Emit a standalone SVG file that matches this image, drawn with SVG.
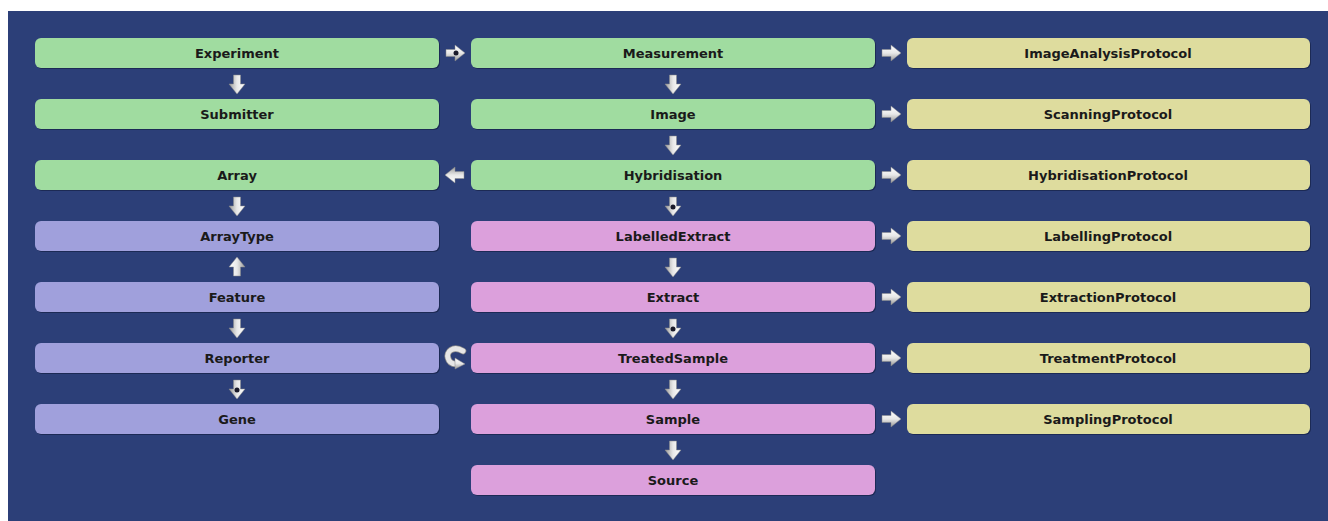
<svg xmlns="http://www.w3.org/2000/svg" width="1328" height="521" viewBox="0 0 1328 521">
<defs>
<style>
.g{fill:#a0dca0}.y{fill:#dedc9e}.p{fill:#a0a0dc}.k{fill:#dca0dc}
.sh{fill:#1c2a55}
text{font-family:"DejaVu Sans","Liberation Sans",sans-serif;font-size:13px;font-weight:bold;fill:#1a1a1a;text-anchor:middle}
.ar{fill:url(#ag);stroke:#8a8a8a;stroke-width:0.5}
.dot{fill:#1a1a2a}
</style>
<linearGradient id="ag" x1="0" y1="0" x2="0" y2="1">
<stop offset="0" stop-color="#ffffff"/>
<stop offset="0.5" stop-color="#e8e8e8"/>
<stop offset="1" stop-color="#9a9a9a"/>
</linearGradient>
<path id="arr" class="ar" d="M-9,-3.5 L0,-3.5 L0,-8 L10,0 L0,8 L0,3.5 L-9,3.5 Z"/>
</defs>
<rect x="0" y="0" width="1328" height="521" fill="#ffffff"/>
<rect x="8" y="11" width="1320" height="510" fill="#2c3f78"/>

<g id="connectors">
<use href="#arr" transform="translate(455,53)"/><circle class="dot" cx="456" cy="53" r="2.5"/>
<use href="#arr" transform="translate(891,53)"/>
<use href="#arr" transform="translate(237,84) rotate(90)"/>
<use href="#arr" transform="translate(673,84) rotate(90)"/>
<use href="#arr" transform="translate(891,114)"/>
<use href="#arr" transform="translate(673,145) rotate(90)"/>
<use href="#arr" transform="translate(455,175) rotate(180)"/>
<use href="#arr" transform="translate(891,175)"/>
<use href="#arr" transform="translate(237,206) rotate(90)"/>
<use href="#arr" transform="translate(673,206) rotate(90)"/><circle class="dot" cx="673" cy="207" r="2.5"/>
<use href="#arr" transform="translate(891,236)"/>
<use href="#arr" transform="translate(237,267) rotate(-90)"/>
<use href="#arr" transform="translate(673,267) rotate(90)"/>
<use href="#arr" transform="translate(891,297)"/>
<use href="#arr" transform="translate(237,328) rotate(90)"/>
<use href="#arr" transform="translate(673,328) rotate(90)"/><circle class="dot" cx="673" cy="329" r="2.5"/>
<g id="curved">
<path d="M463,351 C453,345 446,352 448,358 C449,362 452,364 456,364" fill="none" stroke="#8a8a8a" stroke-width="6.5" stroke-linecap="round"/>
<path d="M463,351 C453,345 446,352 448,358 C449,362 452,364 456,364" fill="none" stroke="#e6e6e6" stroke-width="5" stroke-linecap="round"/>
<path class="ar" d="M455,358 L465,364 L455,369 Z"/>
</g>
<use href="#arr" transform="translate(891,358)"/>
<use href="#arr" transform="translate(237,389) rotate(90)"/><circle class="dot" cx="237" cy="390" r="2.5"/>
<use href="#arr" transform="translate(673,389) rotate(90)"/>
<use href="#arr" transform="translate(891,419)"/>
<use href="#arr" transform="translate(673,450) rotate(90)"/>
</g>

<g id="n-experiment"><rect class="sh" x="36" y="39" width="404" height="30" rx="6"/><rect class="g" x="35" y="38" width="404" height="30" rx="6"/><text x="237" y="58">Experiment</text></g>
<g id="n-measurement"><rect class="sh" x="472" y="39" width="404" height="30" rx="6"/><rect class="g" x="471" y="38" width="404" height="30" rx="6"/><text x="673" y="58">Measurement</text></g>
<g id="n-imageanalysisprotocol"><rect class="sh" x="908" y="39" width="403" height="30" rx="6"/><rect class="y" x="907" y="38" width="403" height="30" rx="6"/><text x="1108" y="58">ImageAnalysisProtocol</text></g>

<g id="n-submitter"><rect class="sh" x="36" y="100" width="404" height="30" rx="6"/><rect class="g" x="35" y="99" width="404" height="30" rx="6"/><text x="237" y="119">Submitter</text></g>
<g id="n-image"><rect class="sh" x="472" y="100" width="404" height="30" rx="6"/><rect class="g" x="471" y="99" width="404" height="30" rx="6"/><text x="673" y="119">Image</text></g>
<g id="n-scanningprotocol"><rect class="sh" x="908" y="100" width="403" height="30" rx="6"/><rect class="y" x="907" y="99" width="403" height="30" rx="6"/><text x="1108" y="119">ScanningProtocol</text></g>

<g id="n-array"><rect class="sh" x="36" y="161" width="404" height="30" rx="6"/><rect class="g" x="35" y="160" width="404" height="30" rx="6"/><text x="237" y="180">Array</text></g>
<g id="n-hybridisation"><rect class="sh" x="472" y="161" width="404" height="30" rx="6"/><rect class="g" x="471" y="160" width="404" height="30" rx="6"/><text x="673" y="180">Hybridisation</text></g>
<g id="n-hybridisationprotocol"><rect class="sh" x="908" y="161" width="403" height="30" rx="6"/><rect class="y" x="907" y="160" width="403" height="30" rx="6"/><text x="1108" y="180">HybridisationProtocol</text></g>

<g id="n-arraytype"><rect class="sh" x="36" y="222" width="404" height="30" rx="6"/><rect class="p" x="35" y="221" width="404" height="30" rx="6"/><text x="237" y="241">ArrayType</text></g>
<g id="n-labelledextract"><rect class="sh" x="472" y="222" width="404" height="30" rx="6"/><rect class="k" x="471" y="221" width="404" height="30" rx="6"/><text x="673" y="241">LabelledExtract</text></g>
<g id="n-labellingprotocol"><rect class="sh" x="908" y="222" width="403" height="30" rx="6"/><rect class="y" x="907" y="221" width="403" height="30" rx="6"/><text x="1108" y="241">LabellingProtocol</text></g>

<g id="n-feature"><rect class="sh" x="36" y="283" width="404" height="30" rx="6"/><rect class="p" x="35" y="282" width="404" height="30" rx="6"/><text x="237" y="302">Feature</text></g>
<g id="n-extract"><rect class="sh" x="472" y="283" width="404" height="30" rx="6"/><rect class="k" x="471" y="282" width="404" height="30" rx="6"/><text x="673" y="302">Extract</text></g>
<g id="n-extractionprotocol"><rect class="sh" x="908" y="283" width="403" height="30" rx="6"/><rect class="y" x="907" y="282" width="403" height="30" rx="6"/><text x="1108" y="302">ExtractionProtocol</text></g>

<g id="n-reporter"><rect class="sh" x="36" y="344" width="404" height="30" rx="6"/><rect class="p" x="35" y="343" width="404" height="30" rx="6"/><text x="237" y="363">Reporter</text></g>
<g id="n-treatedsample"><rect class="sh" x="472" y="344" width="404" height="30" rx="6"/><rect class="k" x="471" y="343" width="404" height="30" rx="6"/><text x="673" y="363">TreatedSample</text></g>
<g id="n-treatmentprotocol"><rect class="sh" x="908" y="344" width="403" height="30" rx="6"/><rect class="y" x="907" y="343" width="403" height="30" rx="6"/><text x="1108" y="363">TreatmentProtocol</text></g>

<g id="n-gene"><rect class="sh" x="36" y="405" width="404" height="30" rx="6"/><rect class="p" x="35" y="404" width="404" height="30" rx="6"/><text x="237" y="424">Gene</text></g>
<g id="n-sample"><rect class="sh" x="472" y="405" width="404" height="30" rx="6"/><rect class="k" x="471" y="404" width="404" height="30" rx="6"/><text x="673" y="424">Sample</text></g>
<g id="n-samplingprotocol"><rect class="sh" x="908" y="405" width="403" height="30" rx="6"/><rect class="y" x="907" y="404" width="403" height="30" rx="6"/><text x="1108" y="424">SamplingProtocol</text></g>

<g id="n-source"><rect class="sh" x="472" y="466" width="404" height="30" rx="6"/><rect class="k" x="471" y="465" width="404" height="30" rx="6"/><text x="673" y="485">Source</text></g>
</svg>
